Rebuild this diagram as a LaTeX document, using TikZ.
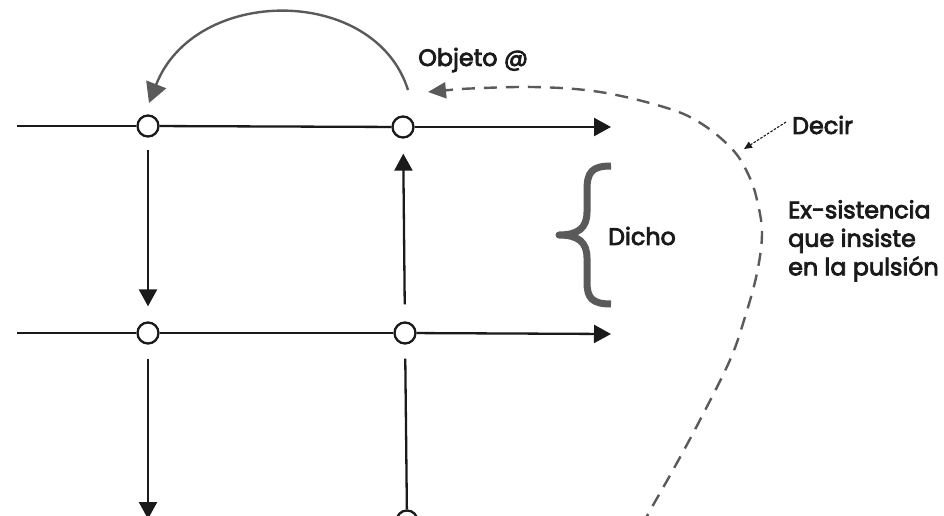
\documentclass[tikz,border=0pt]{standalone}
\usepackage{fontspec}
\setmainfont{Poppins}
\usetikzlibrary{arrows.meta}
\definecolor{ink}{HTML}{1A1A1A}
\definecolor{mid}{HTML}{5A5A5A}
% text filled and outlined, for a slightly heavier stroke
\newcommand\heavy[1]{\special{pdf:literal direct 2 Tr 0.8 w}#1\special{pdf:literal direct 0 Tr}}
\tikzset{
  dot/.style={circle, draw=ink, fill=white, line width=2.3pt, minimum size=21pt, inner sep=0pt},
  rail/.style={draw=ink, line width=2.3pt},
  flow/.style={rail, -{Triangle[length=17pt,width=18pt]}},
  lbl/.style={font=\fontsize{23.8}{28.5}\selectfont, text=ink, inner sep=0pt, align=left},
  swing/.style={draw=mid, line width=2.4pt, -{Triangle[length=20pt,width=21pt]}},
  loop/.style={draw=mid, line width=2.4pt, dash pattern=on 13pt off 9pt, -{Triangle[length=18pt,width=16pt]}},
  pointer/.style={draw=ink, line width=1.1pt, dash pattern=on 2.5pt off 1.5pt, -{Triangle[length=8pt,width=7pt]}},
}
\begin{document}
\begin{tikzpicture}[x=1pt,y=-1pt]
\useasboundingbox (0,0) rectangle (944,516);
\clip (0,0) rectangle (944,516);

% upper chain
\coordinate (l1) at (17,126);
\node[dot] (a1) at (148,126) {};
\node[dot] (b1) at (403,127) {};
\coordinate (r1) at (611,127);
% lower chain
\coordinate (l2) at (17,333);
\node[dot] (a2) at (148,333) {};
\node[dot] (b2) at (405,333) {};
\coordinate (r2) at (611,334);
% continuation below
\coordinate (a3) at (148,519);
\node[dot] (b3) at (407,521) {};

\draw[rail] (l1) -- (a1);
\draw[rail] (a1) -- (b1);
\draw[flow] (b1) -- (r1);
\draw[rail] (l2) -- (a2);
\draw[rail] (a2) -- (b2);
\draw[flow] (b2) -- (r2);

\draw[flow, shorten <=12pt, shorten >=15pt] (a1) -- (a2);
\draw[flow, shorten <=17pt, shorten >=15pt] (b2) -- (b1);
\draw[flow, shorten <=14pt] (a2) -- (a3);
\draw[rail, shorten <=14pt] (b2) -- (b3);

% object arc
\coordinate (s1) at (408,90);
\coordinate (e1) at (149,103);
\draw[swing] (s1) .. controls (375,-15) and (195,-15) .. (e1);
\node[lbl, anchor=west] (obj) at (418,60) {\heavy{Objeto @}};

% dashed loop of the saying
\coordinate (tip) at (428,92);
\draw[loop] plot[smooth, tension=0.6] coordinates {(632,545) (647,516) (673,470) (700,420) (730,360) (745,317) (757,273) (762,233) (757,200) (749,176) (733,150) (702,124) (667,108) (600,92) (533,87) (460,89)} -- (tip);

% brace
\draw[draw=mid, line width=7pt, line join=round]
  (611,166) .. controls (592,166) and (587,172) .. (587,190)
  -- (587,212) .. controls (587,228) and (578,235) .. (559,235)
  .. controls (578,235) and (587,242) .. (587,258)
  -- (587,282) .. controls (587,298) and (592,304) .. (611,304);
\node[lbl, anchor=west] (dicho) at (608,236) {\heavy{Dicho}};

% labels on the right
\node[lbl, anchor=west] (decir) at (792,125) {\heavy{Decir}};
\coordinate (hit) at (744,149);
\draw[pointer] ([xshift=-6pt,yshift=3pt]decir.west) -- (hit);
\node[lbl, anchor=north west] (exs) at (788,200) {\heavy{Ex-sistencia}\\\heavy{que insiste}\\\heavy{en la pulsión}};
\end{tikzpicture}
\end{document}
